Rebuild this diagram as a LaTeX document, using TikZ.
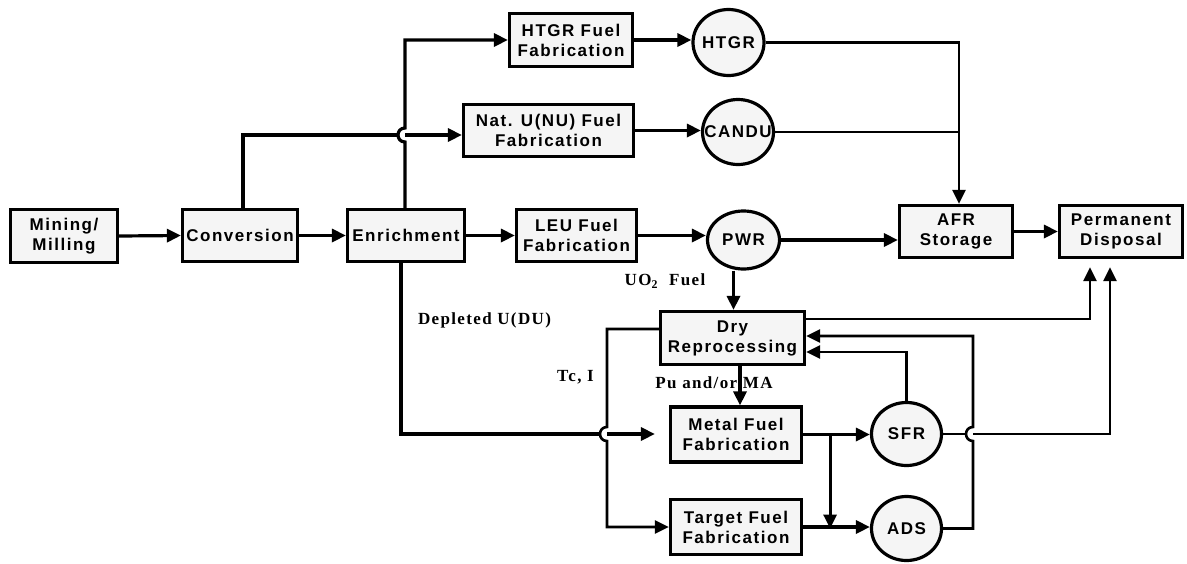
\documentclass[tikz,border=0pt]{standalone}
\usepackage{fontspec}
\setmainfont{Liberation Sans}
\newfontfamily\boxfont[LetterSpace=9]{Liberation Sans}
\newfontfamily\labfont[LetterSpace=8]{Liberation Serif}
\usetikzlibrary{arrows.meta,shapes.geometric}
\definecolor{boxgray}{HTML}{F5F5F5}
\tikzset{
  blk/.style={draw, line width=3.2pt, fill=boxgray, inner sep=0pt, align=center,
    font=\boxfont\bfseries\fontsize{17}{20}\selectfont},
  reac/.style={ellipse, draw, line width=3.2pt, fill=boxgray, inner sep=0pt,
    font=\boxfont\bfseries\fontsize{17}{20}\selectfont},
  flow/.style={line width=3.2pt, -{Triangle[length=14pt,width=13pt]}},
  thinflow/.style={line width=2.6pt, -{Triangle[length=14pt,width=13pt]}},
  wire/.style={line width=2.6pt},
  lab/.style={font=\labfont\bfseries\fontsize{17}{20}\selectfont, inner sep=0pt}
}
\begin{document}
\begin{tikzpicture}[x=1pt,y=-1pt]
\useasboundingbox (0,0) rectangle (1187,563);
% boxes
\node[blk, minimum width=107pt, minimum height=53pt] (mining) at (64,236) {Mining/\\Milling};
\node[blk, minimum width=115pt, minimum height=52pt] (conv) at (240,235.5) {Conversion};
\node[blk, minimum width=117pt, minimum height=52pt] (enr) at (406,235.5) {Enrichment};
\node[blk, minimum width=123pt, minimum height=53pt] (htgrfab) at (571,40) {HTGR Fuel\\Fabrication};
\node[blk, minimum width=170pt, minimum height=52pt] (natfab) at (548.5,130.5) {Nat. U(NU) Fuel\\Fabrication};
\node[blk, minimum width=120pt, minimum height=52pt] (leufab) at (576.5,235.5) {LEU Fuel\\Fabrication};
\node[blk, minimum width=113pt, minimum height=52pt] (afr) at (956,231.5) {AFR\\Storage};
\node[blk, minimum width=123pt, minimum height=52pt] (perm) at (1121,231.5) {Permanent\\Disposal};
\node[blk, minimum width=144pt, minimum height=53pt] (dry) at (732.5,338) {Dry\\Reprocessing};
\node[blk, minimum width=131pt, minimum height=55pt] (metal) at (736,434.5) {Metal Fuel\\Fabrication};
\node[blk, minimum width=131pt, minimum height=55pt] (target) at (736,527) {Target Fuel\\Fabrication};
% reactors
\node[reac, minimum width=71pt, minimum height=66pt] (htgr) at (728.5,42.5) {\makebox[0pt]{HTGR}};
\node[reac, minimum width=71pt, minimum height=65pt] (candu) at (738,132) {\makebox[0pt]{CANDU}};
\node[reac, minimum width=72pt, minimum height=58pt] (pwr) at (743.5,240) {\makebox[0pt]{PWR}};
\node[reac, minimum width=70pt, minimum height=63pt] (sfr) at (906.5,434) {\makebox[0pt]{SFR}};
\node[reac, minimum width=70pt, minimum height=64pt] (ads) at (906.5,528.5) {\makebox[0pt]{ADS}};
% labels
\node[lab] (ldu) at (484.5,320) {Depleted U(DU)};
\node[lab] (luo) at (665,281) {UO\textsubscript{2}\ \ Fuel};
\node[lab] (lpu) at (714,383) {Pu and/or MA};
\node[lab] (ltc) at (575.5,377) {Tc, I};
% helper coordinates
\coordinate (hopA) at (405,135);
\coordinate (hopB) at (607,434);
\coordinate (hopC) at (973,434);
\coordinate (afrin) at ([xshift=3pt]afr.north);
\coordinate (pin1) at ([xshift=-31pt]perm.south);
\coordinate (pin2) at ([xshift=-11pt]perm.south);
\coordinate (br) at ([xshift=27pt]metal.east);
% front end
\draw[flow] (mining.east) -- (conv.west);
\draw[flow] (conv.east) -- (enr.west);
\draw[flow] (enr.east) -- (leufab.west);
\draw[flow] (leufab.east) -- (leufab.east -| pwr.west);
\draw[flow] (htgrfab.east) -- (htgrfab.east -| htgr.west);
\draw[flow] (natfab.east) -- (natfab.east -| candu.west);
\draw[line width=3.2pt] ([xshift=3pt]conv.north) |- ([xshift=-7pt]hopA);
\draw[flow] (hopA) -- (hopA -| natfab.west);
\draw[flow] ([xshift=-1pt]enr.north) -- ([yshift=-7pt]hopA)
  .. controls ([xshift=-9.3pt,yshift=-7pt]hopA) and ([xshift=-9.3pt,yshift=7pt]hopA) .. ([yshift=7pt]hopA)
  |- (htgrfab.west);
% depleted uranium
\draw[line width=3.2pt] ([xshift=-5pt]enr.south) |- ([xshift=-7pt]hopB);
\draw[flow, shorten >=14pt] (hopB) -- (hopB -| metal.west);
% Tc, I
\draw[thinflow] ([yshift=9pt]dry.west) -| ([yshift=7pt]hopB)
  .. controls ([xshift=-9.3pt,yshift=7pt]hopB) and ([xshift=-9.3pt,yshift=-7pt]hopB) .. ([yshift=-7pt]hopB)
  |- (target.west);
% reactors to storage
\draw[thinflow] (htgr.east) -| (afrin);
\draw[wire] (candu.east) -- (candu.east -| afrin);
\draw[flow] (pwr.east) -- (pwr.east -| afr.west);
\draw[flow] (afr.east) -- (perm.west);
% PWR to reprocessing
\draw[flow] ([xshift=-10pt]pwr.south) -- ([xshift=-10pt]pwr.south |- dry.north);
\draw[flow] ([xshift=7.5pt]dry.south) -- ([xshift=7.5pt]dry.south |- metal.north);
% reprocessing to disposal
\draw[thinflow, shorten >=8pt] ([yshift=19pt]dry.east) -| (pin1);
% fast reactor loop
\draw[flow] (metal.east) -- (metal.east -| sfr.west);
\draw[flow] (br) -- (br |- ads.west);
\draw[flow] (target.east) -- (target.east -| ads.west);
\draw[wire] (sfr.east) -- ([xshift=-7pt]hopC);
\draw[thinflow, shorten >=8pt] (hopC) -| (pin2);
\draw[thinflow] (ads.east) -| ([yshift=-7pt]hopC)
  .. controls ([xshift=-9.3pt,yshift=-7pt]hopC) and ([xshift=-9.3pt,yshift=7pt]hopC) .. ([yshift=7pt]hopC)
  |- ([yshift=2pt]dry.east);
\draw[thinflow] (sfr.north) |- ([yshift=-14pt]dry.east);
\end{tikzpicture}
\end{document}
